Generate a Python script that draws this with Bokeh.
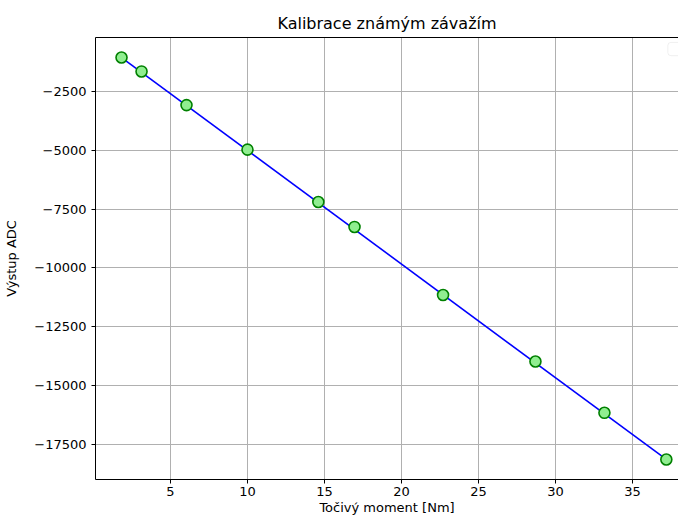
from bokeh.plotting import figure
from bokeh.models import Range1d, FixedTicker, CustomJSTickFormatter, LinearAxis, BoxAnnotation
from bokeh.embed import file_html
from bokeh.resources import INLINE

# Measured calibration points
torque = [1.82, 3.12, 6.04, 10.0, 14.6, 16.95, 22.7, 28.7, 33.18, 37.2]
adc = [-1070, -1660, -3090, -4980, -7200, -8260, -11150, -13970, -16150, -18130]

# Fitted line (endpoints)
fit_x = [1.82, 37.2]
fit_y = [-1070, -18130]

xticks = [5, 10, 15, 20, 25, 30, 35]
yticks = [-17500, -15000, -12500, -10000, -7500, -5000, -2500]

FONT = "DejaVu Sans"

p = figure(width=678, height=517, output_backend="svg", toolbar_location=None,
           x_range=Range1d(0.13, 37.99), y_range=Range1d(-18980, -220),
           title="Kalibrace známým závažím",
           x_axis_label="Točivý moment [Nm]", y_axis_label="Výstup ADC",
           min_border_left=95, min_border_right=0, min_border_top=37, min_border_bottom=30)

p.title.align = "center"
p.title.text_font = FONT
p.title.text_font_size = "16px"
p.title.text_font_style = "normal"
p.title.text_color = "black"

p.outline_line_color = None
p.background_fill_color = "white"
p.border_fill_color = "white"

formatter = CustomJSTickFormatter(code="return tick < 0 ? '\u2212' + Math.abs(tick) : tick.toString();")

for ax in (p.xaxis[0], p.yaxis[0]):
    ax.axis_label_text_font = FONT
    ax.axis_label_text_font_size = "13px"
    ax.axis_label_text_font_style = "normal"
    ax.axis_label_text_color = "black"
    ax.major_label_text_font = FONT
    ax.major_label_text_font_size = "13px"
    ax.major_label_text_color = "black"
    ax.axis_line_color = "black"
    ax.axis_line_width = 1
    ax.major_tick_line_color = "black"
    ax.major_tick_out = 4
    ax.major_tick_in = 0
    ax.minor_tick_line_color = None
    ax.formatter = formatter

p.xaxis[0].ticker = FixedTicker(ticks=xticks)
p.yaxis[0].ticker = FixedTicker(ticks=yticks)
p.xaxis[0].major_label_standoff = 3
p.xaxis[0].axis_label_standoff = 1
p.yaxis[0].axis_label_standoff = 12

# top spine
top = LinearAxis(axis_line_color="black", axis_line_width=1, major_tick_line_color=None,
                 minor_tick_line_color=None, major_label_text_font_size="0px",
                 ticker=FixedTicker(ticks=[]))
p.add_layout(top, "above")

p.xgrid.ticker = FixedTicker(ticks=xticks)
p.ygrid.ticker = FixedTicker(ticks=yticks)
p.grid.grid_line_color = "#b0b0b0"
p.grid.grid_line_width = 1

p.line(fit_x, fit_y, line_color="blue", line_width=1.6)
p.scatter(torque, adc, size=11, fill_color="#90ee90", line_color="green", line_width=1.6)

# empty legend box (clipped at the right)
p.add_layout(BoxAnnotation(left=37.3, right=39.0, top=-430, bottom=-990,
                           fill_color="white", fill_alpha=0.8,
                           line_color="#cccccc", line_width=1, border_radius=3))

open("out.html", "w").write(file_html(p, INLINE))
